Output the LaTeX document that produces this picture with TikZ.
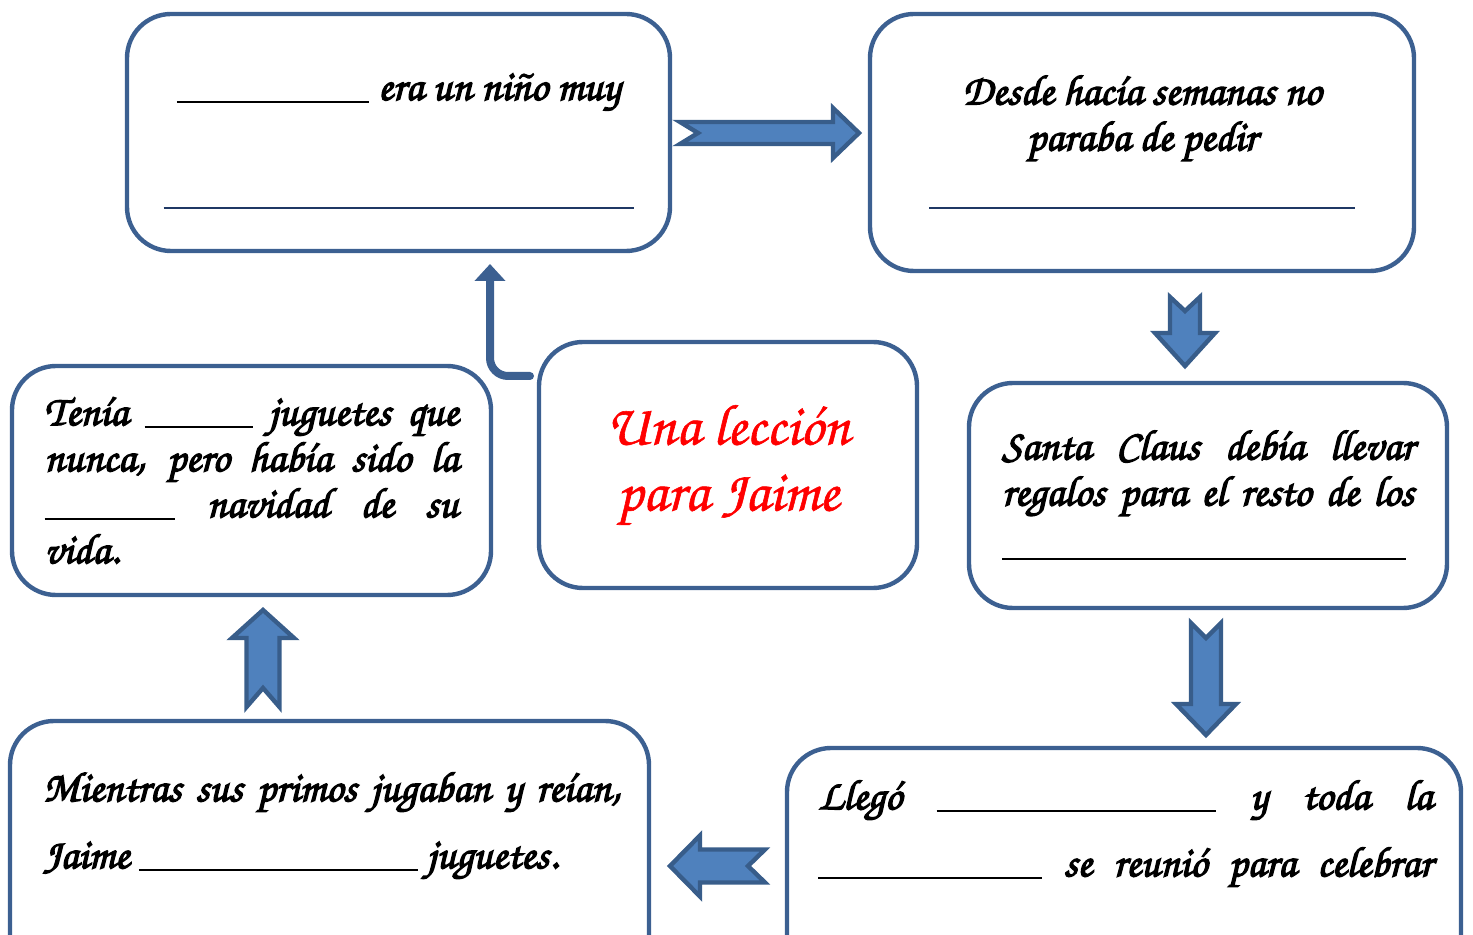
\documentclass[tikz,border=0pt]{standalone}
\usepackage{fontspec}
\newfontfamily\chorus[FakeBold=1]{texgyrechorus-mediumitalic.otf}
\newfontfamily\chorusbold[FakeBold=3]{texgyrechorus-mediumitalic.otf}
\usetikzlibrary{positioning,arrows.meta}
\tikzset{>=latex}

\definecolor{cardedge}{RGB}{60,96,145}
\definecolor{arrowfill}{RGB}{79,129,189}
\definecolor{arrowedge}{RGB}{56,93,138}
\definecolor{blankline}{RGB}{31,56,100}

\newcommand\hueco[1]{\rule[-1.5pt]{#1}{1.1pt}}

\tikzset{
  card/.style={draw=cardedge, line width=2.2pt, rounded corners=22pt, inner sep=0pt, fill=white},
  words/.style={font=\chorusbold\fontsize{21.3}{23}\selectfont, inner sep=0pt},
  arrowbody/.style={fill=arrowfill, draw=arrowedge, line width=2.2pt, line join=miter},
  pics/blockarrow/.style args={#1/#2/#3/#4/#5}{code={
    \draw[arrowbody] (0,-#2) -- (#1-#4,-#2) -- (#1-#4,-#3) -- (#1,0) -- (#1-#4,#3) -- (#1-#4,#2) -- (0,#2) -- (#5,0) -- cycle;
  }}
}

\begin{document}
\begin{tikzpicture}[x=0.5pt, y=-0.5pt]
      \useasboundingbox (0,0) rectangle (1473,935);
      % the seven cards
      \node[card, words, align=center, minimum width=271.5pt, minimum height=118.5pt] (nino) at (398.5,132.5) {\rule{0pt}{22pt}\hueco{96pt} era un niño muy\\[30pt]\textcolor{blankline}{\hueco{235pt}}};
      \node[card, words, align=center, minimum width=272pt, minimum height=128.5pt] (pedir) at (1142,142.5) {Desde hacía semanas no\\paraba de pedir\\[5pt]\textcolor{blankline}{\hueco{213pt}}};
      \node[card, words, align=left, minimum width=239pt, minimum height=112.5pt] (santa) at (1208,495.5) {\makebox[206pt][s]{Santa Claus debía llevar}\\\makebox[206pt][s]{regalos para el resto de los}\\[3pt]\hueco{202pt}};
      \node[card, minimum width=337pt, minimum height=120pt] (llego) at (1124,868) {};
      \node[card, minimum width=319.5pt, minimum height=133.5pt] (primos) at (329.5,854.5) {};
      \node[card, words, align=left, minimum width=239.5pt, minimum height=114.5pt] (tenia) at (251.5,480.5) {\makebox[207pt][s]{Tenía \hueco{54pt} juguetes que}\\\makebox[207pt][s]{nunca, pero había sido la}\\\makebox[207pt][s]{\hueco{65.5pt} navidad de su}\\vida.};
      \node[card, align=center, text=red, font=\chorus\fontsize{29}{33}\selectfont, minimum width=189pt, minimum height=123pt] (titulo) at (728,465) {Una lección\\para Jaime};
      % texts of the two lower cards
      \node[words, align=left, anchor=north west] (tllego) at (818,780) {\makebox[307pt][s]{Llegó \hueco{139.5pt} y toda la}\\[10.5pt]\makebox[307pt][s]{\hueco{112pt} se reunió para celebrar}};
      \node[words, align=left, anchor=north west] (tprimos) at (43,772) {\makebox[288.5pt][s]{Mientras sus primos jugaban y reían,}\\[10.5pt]Jaime \hueco{139.5pt} juguetes.};
      % block arrows
      \pic (a1) at (680,133) {blockarrow=179/11/25/26/18};
      \pic[rotate=-90] (a2) at (1185,297) {blockarrow=69/15/30/33/14};
      \pic[rotate=-90] (a3) at (1206,623) {blockarrow=112/15/30/31/15};
      \pic[rotate=180] (a4) at (765,866) {blockarrow=95/16.5/30.5/30/17};
      \pic[rotate=90] (a5) at (263,707) {blockarrow=97/16.5/31/28/19};
      % bent arrow from the title up to the first card
      \coordinate (elbowstart) at (530,376);
      \coordinate (elbowend) at (490,264);
      \draw[draw=cardedge, line width=4pt, rounded corners=9pt, line cap=round, -{Triangle[width=15pt,length=8.5pt]}] (elbowstart) -| (elbowend);
    \end{tikzpicture}
\end{document}
